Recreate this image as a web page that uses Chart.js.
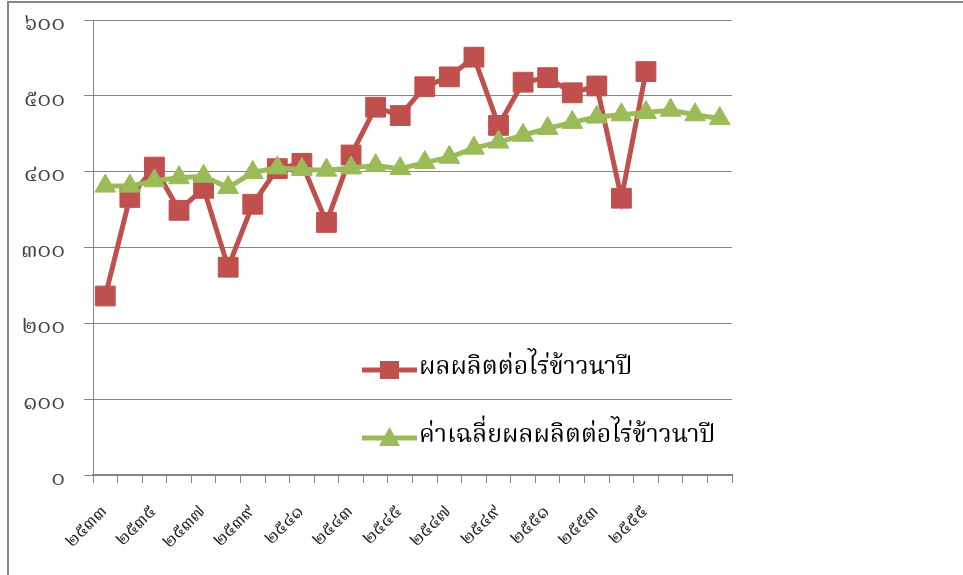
<!DOCTYPE html>
<html>
<head>
<meta charset="utf-8">
<script src="https://cdn.jsdelivr.net/npm/chart.js@4"></script>
<style>
  html, body { margin: 0; padding: 0; background: #fff; }
  #wrap { position: relative; width: 963px; height: 575px; }
</style>
</head>
<body>
<div id="wrap"><canvas id="riceChart"></canvas></div>
<script>
const years = ['๒๕๓๓', '๒๕๓๔', '๒๕๓๕', '๒๕๓๖', '๒๕๓๗', '๒๕๓๘', '๒๕๓๙', '๒๕๔๐', '๒๕๔๑', '๒๕๔๒',
    '๒๕๔๓', '๒๕๔๔', '๒๕๔๕', '๒๕๔๖', '๒๕๔๗', '๒๕๔๘', '๒๕๔๙', '๒๕๕๐', '๒๕๕๑', '๒๕๕๒',
    '๒๕๕๓', '๒๕๕๔', '๒๕๕๕', '', '', ''];
const yieldPerRai = [236, 366, 406, 349, 378, 274, 357, 404, 411, 333,
    422, 485, 474, 512, 525, 551, 461, 518, 524, 504,
    513, 365, 532];
const avgYieldPerRai = [381, 381, 388, 392, 394, 379, 399, 405, 403, 402,
    405, 408, 404, 412, 419, 431, 439, 448, 457, 465,
    472, 475, 478, 481, 475, 470];
const seriesNames = ['ผลผลิตต่อไร่ข้าวนาปี', 'ค่าเฉลี่ยผลผลิตต่อไร่ข้าวนาปี'];

const thaiFont = '"Noto Serif Thai", Norasi, Kinnari, "Tlwg Typo", "Noto Sans Thai", Garuda, Loma, serif';
const thaiDigits = '๐๑๒๓๔๕๖๗๘๙';
function toThai(n) {
    return String(n).replace(/[0-9]/g, d => thaiDigits[d]);
}

// frame lines on the left and top edge of the picture
const framePlugin = {
    id: 'frame',
    beforeDraw(chart) {
        const ctx = chart.ctx;
        ctx.save();
        ctx.strokeStyle = '#868686';
        ctx.lineWidth = 2;
        ctx.beginPath();
        ctx.moveTo(8, 575);
        ctx.lineTo(8, 2);
        ctx.lineTo(963, 2);
        ctx.stroke();
        ctx.restore();
    }
};

// legend drawn inside the plot area
const legendPlugin = {
    id: 'innerLegend',
    afterDraw(chart) {
        const ctx = chart.ctx;
        const rows = [370, 438];
        ctx.save();
        chart.data.datasets.forEach((ds, i) => {
            const y = rows[i];
            ctx.strokeStyle = ds.borderColor;
            ctx.lineWidth = 5;
            ctx.beginPath();
            ctx.moveTo(362, y);
            ctx.lineTo(417, y);
            ctx.stroke();
            ctx.fillStyle = ds.pointBackgroundColor;
            if (ds.pointStyle === 'rect') {
                ctx.fillRect(380, y - 9, 19, 18);
            } else {
                ctx.beginPath();
                ctx.moveTo(389.5, y - 11);
                ctx.lineTo(400, y + 8);
                ctx.lineTo(379, y + 8);
                ctx.closePath();
                ctx.fill();
            }
            ctx.fillStyle = '#000';
            ctx.font = '25px ' + thaiFont;
            ctx.textBaseline = 'middle';
            ctx.fillText(ds.label, 419, y);
        });
        ctx.restore();
    }
};

new Chart(document.getElementById('riceChart'), {
    type: 'line',
    data: {
        labels: years,
        datasets: [{
            label: seriesNames[0],
            data: yieldPerRai,
            borderColor: '#C0504D',
            borderWidth: 5,
            pointStyle: 'rect',
            pointRadius: 14,
            pointBackgroundColor: '#C0504D',
            pointBorderColor: '#C0504D',
            pointBorderWidth: 1,
            tension: 0,
            order: 1
        }, {
            label: seriesNames[1],
            data: avgYieldPerRai,
            borderColor: '#9BBB59',
            borderWidth: 5,
            pointStyle: 'triangle',
            pointRadius: 12,
            pointBackgroundColor: '#9BBB59',
            pointBorderColor: '#9BBB59',
            pointBorderWidth: 1,
            tension: 0,
            order: 0
        }]
    },
    options: {
        responsive: true,
        maintainAspectRatio: false,
        animation: false,
        layout: { padding: { left: 0, top: 20, right: 231, bottom: 0 } },
        plugins: {
            legend: { display: false },
            tooltip: { enabled: false }
        },
        scales: {
            x: {
                offset: true,
                afterFit: (scale) => {
                    scale.height = 100;
                    scale.paddingLeft = 0;
                    scale.paddingRight = 0;
                },
                grid: {
                    offset: true,
                    drawOnChartArea: false,
                    color: '#868686',
                    tickLength: 8
                },
                border: { color: '#868686', width: 2 },
                ticks: {
                    autoSkip: false,
                    maxRotation: 45.01,
                    minRotation: 45,
                    padding: 19,
                    color: '#222',
                    font: { family: thaiFont, size: 19 },
                    callback: function (value, index) {
                        return index % 2 === 0 ? this.getLabelForValue(value) : '';
                    }
                }
            },
            y: {
                min: 0,
                max: 600,
                afterFit: (scale) => {
                    scale.width = 93;
                    scale.paddingTop = 0;
                    scale.paddingBottom = 0;
                },
                grid: { color: '#868686', tickLength: 9 },
                border: { color: '#868686', width: 1 },
                ticks: {
                    stepSize: 100,
                    padding: 19,
                    labelOffset: 6,
                    color: '#444',
                    font: { family: thaiFont, size: 23 },
                    callback: (v) => toThai(v)
                }
            }
        }
    },
    plugins: [framePlugin, legendPlugin]
});
</script>
</body>
</html>
